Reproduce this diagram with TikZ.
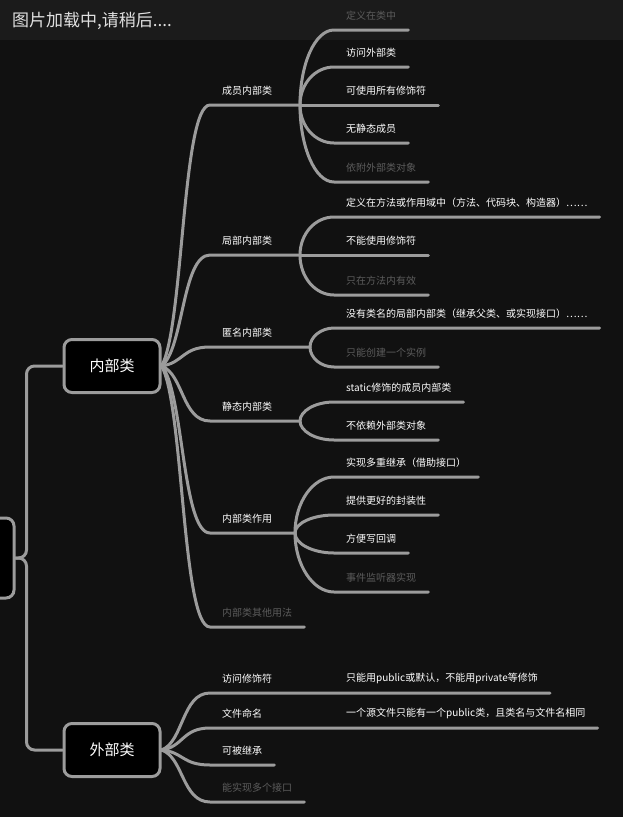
\documentclass[tikz,border=0pt]{standalone}
\usepackage{fontspec}
\setmainfont{Noto Sans CJK SC}
\usetikzlibrary{positioning}

\definecolor{bgdark}{HTML}{111111}
\definecolor{bannerbg}{HTML}{1B1B1B}
\definecolor{linegray}{HTML}{9C9C9C}
\definecolor{dimtext}{HTML}{5C5C5C}

\begin{document}
\begin{tikzpicture}[x=1pt,y=-1pt]
        \tikzstyle{topic} = [rectangle, rounded corners=8pt, draw=linegray, line width=3pt, fill=black, minimum width=96pt, minimum height=53pt, text=white, font=\fontsize{15}{18}\selectfont];
        \tikzstyle{subtopic} = [anchor=south west, inner xsep=12pt, minimum height=28pt, text=white, font=\fontsize{10}{12}\selectfont];
        \tikzstyle{leaf} = [subtopic];
        \tikzstyle{faded} = [text=dimtext];
        \tikzstyle{branch} = [draw=linegray, line width=3pt, line cap=round];

        \useasboundingbox (0,0) rectangle (623,817);
        \fill[bgdark] (0,0) rectangle (623,817);
        \fill[bannerbg] (0,0) rectangle (623,40);

        \node(root) [topic, minimum width=90pt, minimum height=80pt] at (-31,558) {};
        \node(inner) [topic] at (112,366) {内部类};
        \node(outer) [topic] at (112,750) {外部类};

        % inner class branches
        \node(member) [subtopic] at (210,105) {成员内部类};
        \node(local) [subtopic] at (210,255) {局部内部类};
        \node(anon) [subtopic] at (210,347) {匿名内部类};
        \node(nested) [subtopic] at (210,421) {静态内部类};
        \node(usage) [subtopic] at (210,533) {内部类作用};
        \node(other) [subtopic, faded] at (210,627) {内部类其他用法};

        \coordinate(memberfork) at (300,105);
        \coordinate(localfork) at (300,255);
        \coordinate(anonfork) at (310,347);
        \coordinate(nestedfork) at (300,421);
        \coordinate(usagefork) at (295,533);

        \node(member1) [leaf, faded] at (334,30) {定义在类中};
        \node(member2) [leaf] at (334,67) {访问外部类};
        \node(member3) [leaf] at (334,105) {可使用所有修饰符};
        \node(member4) [leaf] at (334,143) {无静态成员};
        \node(member5) [leaf, faded] at (334,182) {依附外部类对象};

        \node(local1) [leaf] at (334,217) {定义在方法或作用域中（方法、代码块、构造器）……};
        \node(local2) [leaf] at (334,255) {不能使用修饰符};
        \node(local3) [leaf, faded] at (334,295) {只在方法内有效};

        \node(anon1) [leaf] at (334,328) {没有类名的局部内部类（继承父类、或实现接口）……};
        \node(anon2) [leaf, faded] at (334,367) {只能创建一个实例};

        \node(nested1) [leaf] at (334,402) {static修饰的成员内部类};
        \node(nested2) [leaf] at (334,440) {不依赖外部类对象};

        \node(usage1) [leaf] at (334,477) {实现多重继承（借助接口）};
        \node(usage2) [leaf] at (334,515) {提供更好的封装性};
        \node(usage3) [leaf] at (334,553) {方便写回调};
        \node(usage4) [leaf, faded] at (334,592) {事件监听器实现};

        % outer class branches
        \node(access) [subtopic] at (210,693) {访问修饰符};
        \node(accessnote) [leaf] at (334,693) {只能用public或默认，不能用private等修饰};
        \node(file) [subtopic] at (210,728) {文件命名};
        \node(filenote) [leaf] at (334,728) {一个源文件只能有一个public类，且类名与文件名相同};
        \node(extend) [subtopic] at (210,765) {可被继承};
        \node(iface) [subtopic, faded] at (210,802) {能实现多个接口};

        \draw[branch, rounded corners=8pt] (root.east) -- ++(11,0) |- (inner.west);
        \draw[branch, rounded corners=8pt] (root.east) -- ++(11,0) |- (outer.west);

        \draw[branch] (inner.east) .. controls +(22,-37) and +(-28,0) .. (member.south west) -- (memberfork);
        \draw[branch] (inner.east) .. controls +(22,-16) and +(-28,0) .. (local.south west) -- (localfork);
        \draw[branch] (inner.east) .. controls +(22,-3) and +(-28,0) .. (anon.south west) -- (anonfork);
        \draw[branch] (inner.east) .. controls +(22,8) and +(-28,0) .. (nested.south west) -- (nestedfork);
        \draw[branch] (inner.east) .. controls +(22,23) and +(-28,0) .. (usage.south west) -- (usagefork);
        \draw[branch] (inner.east) .. controls +(22,37) and +(-28,0) .. (other.south west) -- (other.south east);

        \draw[branch] (memberfork) .. controls +(0,-41) and +(-19,0) .. (member1.south west) -- (member1.south east);
        \draw[branch] (memberfork) .. controls +(0,-21) and +(-19,0) .. (member2.south west) -- (member2.south east);
        \draw[branch] (memberfork) -- (member3.south west) -- (member3.south east);
        \draw[branch] (memberfork) .. controls +(0,21) and +(-19,0) .. (member4.south west) -- (member4.south east);
        \draw[branch] (memberfork) .. controls +(0,42) and +(-19,0) .. (member5.south west) -- (member5.south east);

        \draw[branch] (localfork) .. controls +(0,-21) and +(-19,0) .. (local1.south west) -- (local1.south east);
        \draw[branch] (localfork) -- (local2.south west) -- (local2.south east);
        \draw[branch] (localfork) .. controls +(0,22) and +(-19,0) .. (local3.south west) -- (local3.south east);

        \draw[branch] (anonfork) .. controls +(0,-10) and +(-13,0) .. (anon1.south west) -- (anon1.south east);
        \draw[branch] (anonfork) .. controls +(0,11) and +(-13,0) .. (anon2.south west) -- (anon2.south east);

        \draw[branch] (nestedfork) .. controls +(0,-10) and +(-19,0) .. (nested1.south west) -- (nested1.south east);
        \draw[branch] (nestedfork) .. controls +(0,10) and +(-19,0) .. (nested2.south west) -- (nested2.south east);

        \draw[branch] (usagefork) .. controls +(0,-31) and +(-21,0) .. (usage1.south west) -- (usage1.south east);
        \draw[branch] (usagefork) .. controls +(0,-10) and +(-21,0) .. (usage2.south west) -- (usage2.south east);
        \draw[branch] (usagefork) .. controls +(0,11) and +(-21,0) .. (usage3.south west) -- (usage3.south east);
        \draw[branch] (usagefork) .. controls +(0,32) and +(-21,0) .. (usage4.south west) -- (usage4.south east);

        \draw[branch] (outer.east) .. controls +(22,-8) and +(-28,0) .. (access.south west) -- (accessnote.south east);
        \draw[branch] (outer.east) .. controls +(22,-3) and +(-28,0) .. (file.south west) -- (filenote.south east);
        \draw[branch] (outer.east) .. controls +(22,2) and +(-28,0) .. (extend.south west) -- (extend.south east);
        \draw[branch] (outer.east) .. controls +(22,7) and +(-28,0) .. (iface.south west) -- (iface.south east);

        \node(banner) [anchor=west, inner sep=0pt, text=white!88!black, font=\fontsize{17}{20}\selectfont] at (12,21) {图片加载中,请稍后....};
    \end{tikzpicture}
\end{document}
